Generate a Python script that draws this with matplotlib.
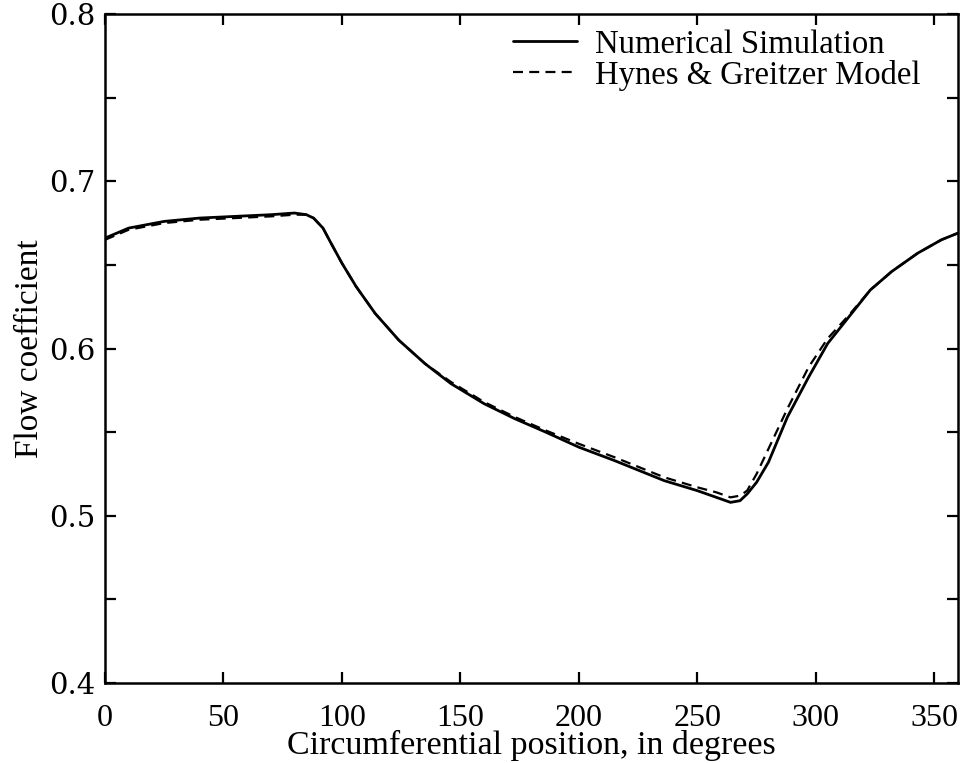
import matplotlib
matplotlib.use("Agg")
import matplotlib.pyplot as plt

# Numerical simulation (solid)
sim_x = [0, 10, 25, 40, 55, 70, 80, 85, 88, 92, 95, 100, 106, 114, 124, 135,
         146, 160, 173, 186, 200, 215, 236, 250, 258, 264, 268, 271, 275, 280,
         288, 297, 305, 314, 323, 332, 343, 353, 360]
sim_y = [0.666, 0.672, 0.676, 0.678, 0.679, 0.680, 0.681, 0.680, 0.678, 0.672,
         0.664, 0.651, 0.637, 0.621, 0.605, 0.591, 0.579, 0.567, 0.558, 0.550,
         0.541, 0.533, 0.521, 0.515, 0.511, 0.508, 0.509, 0.513, 0.520, 0.532,
         0.559, 0.583, 0.603, 0.619, 0.635, 0.646, 0.657, 0.665, 0.669]

# Hynes & Greitzer model (dashed)
hg_x = [0, 10, 25, 40, 55, 70, 80, 85, 88, 92, 95, 100, 106, 114, 124, 135,
        146, 160, 173, 186, 200, 215, 236, 250, 258, 264, 268, 271, 275, 280,
        288, 297, 305, 314, 323, 332, 343, 353, 360]
hg_y = [0.665, 0.671, 0.675, 0.677, 0.678, 0.679, 0.680, 0.680, 0.678, 0.672,
        0.664, 0.651, 0.637, 0.621, 0.605, 0.591, 0.580, 0.568, 0.559, 0.551,
        0.543, 0.535, 0.523, 0.517, 0.514, 0.511, 0.512, 0.515, 0.525, 0.540,
        0.564, 0.589, 0.606, 0.620, 0.635, 0.646, 0.657, 0.665, 0.669]

x_ticks = [0, 50, 100, 150, 200, 250, 300, 350]
y_ticks = [0.4, 0.45, 0.5, 0.55, 0.6, 0.65, 0.7, 0.75, 0.8]
y_tick_labels = ["0.4", "", "0.5", "", "0.6", "", "0.7", "", "0.8"]

plt.rcParams['font.family'] = ['Liberation Serif', 'DejaVu Serif']

W, H = 971, 763
fig = plt.figure(figsize=(W / 100, H / 100), dpi=100)
ax = fig.add_axes([105 / W, 1 - 683 / H, (958 - 105) / W, (683 - 14) / H])

ax.plot(sim_x, sim_y, color='black', lw=2.0, solid_capstyle='round',
        label='Numerical Simulation')
ax.plot(hg_x, hg_y, color='black', lw=1.6, linestyle=(0, (4.5, 2.8)),
        label='Hynes & Greitzer Model')

ax.set_xlim(0, 360)
ax.set_ylim(0.4, 0.8)
ax.set_xticks(x_ticks)
ax.set_xticklabels([str(v) for v in x_ticks], fontsize=23)
ax.set_yticks(y_ticks)
ax.set_yticklabels(y_tick_labels, fontsize=21, family='DejaVu Serif')
ax.tick_params(direction='in', length=8, width=1.6, top=True, right=True)
ax.tick_params(axis='x', pad=15)
ax.tick_params(axis='y', pad=7)
for s in ax.spines.values():
    s.set_linewidth(1.8)

ax.set_xlabel('Circumferential position, in degrees', fontsize=24.5,
              labelpad=-2)
ax.set_ylabel('Flow coefficient', fontsize=24, labelpad=3)

leg = ax.legend(loc='upper left', frameon=False, fontsize=23.5,
                handlelength=1.95, handletextpad=0.55, labelspacing=0.0,
                borderpad=0.4, borderaxespad=0.0,
                bbox_to_anchor=(500 / W, 1 - 16 / H),
                bbox_transform=fig.transFigure)

fig.savefig('out.png', dpi=100, facecolor='white')
